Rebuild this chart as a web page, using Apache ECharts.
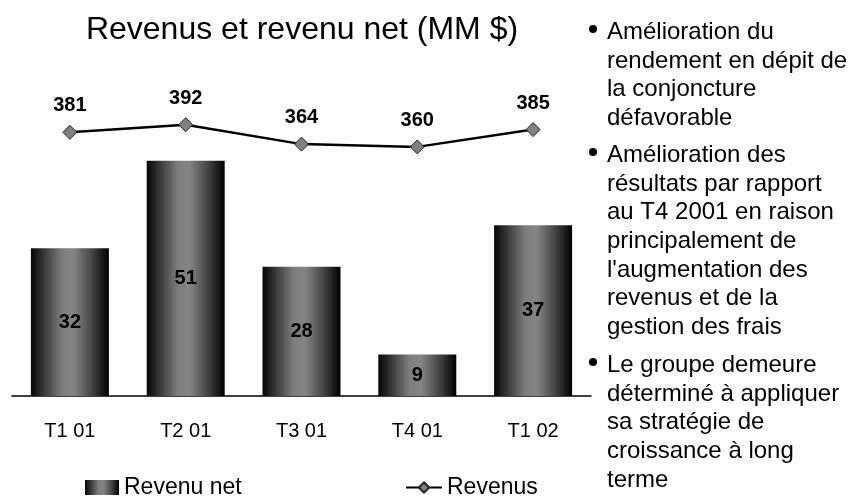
<!DOCTYPE html>
<html>
<head>
<meta charset="utf-8">
<script src="https://cdn.jsdelivr.net/npm/echarts@6/dist/echarts.min.js"></script>
<style>
  html, body { margin: 0; padding: 0; background: #fff; }
  #chart { width: 850px; height: 499px; }
</style>
</head>
<body>
<div id="chart"></div>
<script>
// data
const quarters = ['T1 01', 'T2 01', 'T3 01', 'T4 01', 'T1 02']
const netIncome = [32, 51, 28, 9, 37]
const revenues = [381, 392, 364, 360, 385]

const bullets = [
  ['Amélioration du', 'rendement en dépit de', 'la conjoncture', 'défavorable'],
  ['Amélioration des', 'résultats par rapport', 'au T4 2001 en raison', 'principalement de', "l'augmentation des", 'revenus et de la', 'gestion des frais'],
  ['Le groupe demeure', 'déterminé à appliquer', 'sa stratégie de', 'croissance à long', 'terme']
]
const bulletTops = [18, 141, 351]

const FONT = '"Liberation Sans", Arial, sans-serif'

const barGradient = new echarts.graphic.LinearGradient(0, 0, 1, 0, [
  { offset: 0, color: '#050505' },
  { offset: 0.15, color: '#333333' },
  { offset: 0.4, color: '#7e7e7e' },
  { offset: 0.55, color: '#848484' },
  { offset: 0.78, color: '#454545' },
  { offset: 1, color: '#000000' }
])

const graphicItems = []
bullets.forEach((lines, i) => {
  graphicItems.push({
    type: 'circle',
    shape: { cx: 593, cy: bulletTops[i] + 11, r: 4 },
    style: { fill: '#000' }
  })
  graphicItems.push({
    type: 'text',
    left: 607,
    top: bulletTops[i],
    style: {
      text: lines.join('\n'),
      font: '24px ' + FONT,
      lineHeight: 28.7,
      fill: '#000'
    }
  })
})

const myChart = echarts.init(document.getElementById('chart'))
const option = {
  animation: false,
  textStyle: { fontFamily: FONT },
  title: {
    text: 'Revenus et revenu net (MM $)',
    left: 297,
    top: 9,
    textAlign: 'center',
    textStyle: { fontSize: 32, fontWeight: 'normal', color: '#000', fontFamily: FONT }
  },
  legend: [
    {
      data: [{ name: 'Revenu net', icon: 'rect' }],
      left: 85,
      top: 476,
      padding: 0,
      itemWidth: 34,
      itemHeight: 15,
      textStyle: { fontSize: 23, color: '#000', fontFamily: FONT }
    },
    {
      data: ['Revenus'],
      left: 405,
      top: 476,
      padding: 0,
      itemWidth: 36,
      itemHeight: 13,
      textStyle: { fontSize: 23, color: '#000', fontFamily: FONT }
    }
  ],
  grid: { left: 12, right: 259, top: 50, bottom: 103 },
  xAxis: {
    type: 'category',
    data: quarters,
    axisLine: { lineStyle: { color: '#000', width: 1.5 } },
    axisTick: { show: false },
    axisLabel: { color: '#000', fontSize: 20, margin: 25, fontFamily: FONT }
  },
  yAxis: [
    { type: 'value', min: 0, max: 75, show: false },
    { type: 'value', min: 0, max: 500, show: false }
  ],
  series: [
    {
      name: 'Revenu net',
      type: 'bar',
      barWidth: 78,
      data: netIncome,
      itemStyle: { color: barGradient },
      label: {
        show: true,
        position: 'inside',
        color: '#000',
        fontSize: 20,
        fontWeight: 'bold',
        fontFamily: FONT
      }
    },
    {
      name: 'Revenus',
      type: 'line',
      yAxisIndex: 1,
      data: revenues,
      symbol: 'diamond',
      symbolSize: 14,
      lineStyle: { color: '#000', width: 2.5 },
      itemStyle: { color: '#808080', borderColor: '#222', borderWidth: 1 },
      label: {
        show: true,
        position: 'top',
        distance: 9,
        color: '#000',
        fontSize: 20,
        fontWeight: 'bold',
        fontFamily: FONT
      }
    }
  ],
  graphic: graphicItems
}
myChart.setOption(option)
</script>
</body>
</html>
